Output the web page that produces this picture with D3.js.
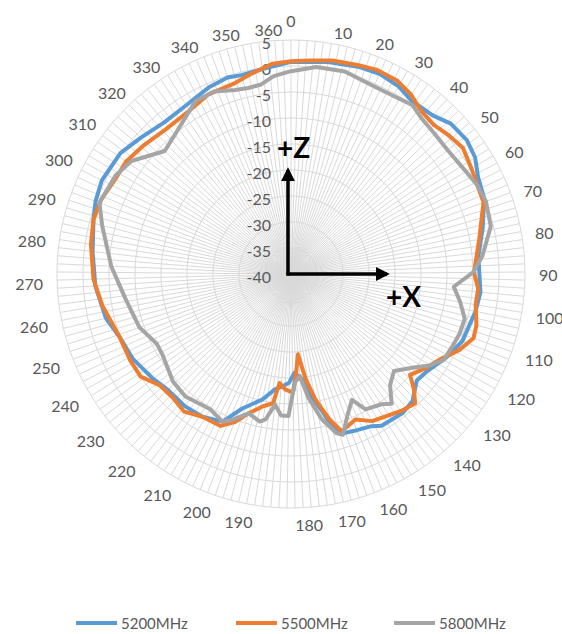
<!DOCTYPE html>
<html>
<head>
<meta charset="utf-8">
<script src="https://cdn.jsdelivr.net/npm/d3@7"></script>
<style>
  body { margin: 0; background: #fff; }
  text { font-family: Lato, "Open Sans", sans-serif; }
</style>
</head>
<body>
<div id="chart"></div>
<script>
"use strict";
(function() {

const WIDTH = 562
const HEIGHT = 634
const CX = 291
const CY = 274
const RADIUS = 234

// categories: measurement angles 0..360 step 2 (one spoke each)
const categories = d3.range(0, 361, 2)
const categoryLabels = d3.range(0, 361, 10)
const dbTicks = [-40, -35, -30, -25, -20, -15, -10, -5, 0, 5]

// series: angle (deg) / gain (dB)
const blueAngles = [0, 10, 18, 24, 30, 35, 42, 47, 53, 58, 63, 69, 77, 85, 96, 102, 112, 119, 126, 131, 137, 142, 150, 153, 158, 163, 166, 168, 172, 175, 179, 182, 186, 189, 194, 201, 206, 213, 220, 228, 234, 243, 251, 258, 268, 278, 287, 292, 298, 307, 314, 322, 330, 338, 344, 348, 354]
const blueDb = [0.8, 1.4, 1.9, 2.1, 1.6, 0.6, 0.9, 2.2, 2.5, 1.9, 0.5, -0.1, -2.1, -3.8, -3.4, -3.8, -4.6, -6.1, -7.8, -8.3, -6.2, -5.7, -6.0, -6.9, -7.4, -7.8, -10, -12.8, -16.5, -19.7, -21, -19.1, -18.2, -17.6, -15.2, -12.5, -8.7, -7.7, -7.4, -7.5, -6.7, -5.5, -4.9, -3.4, -2.3, -1.6, -0.6, 0.1, 0.6, 0.2, -1.0, -2.0, -1.8, -0.8, -0.3, -0.6, -0.2]

const orangeAngles = [0, 5, 11, 18, 23, 29, 34, 39, 44, 49, 54, 60, 65, 70, 80, 90, 95, 100, 106, 110, 115, 120, 126, 131, 134, 137, 142, 152, 157, 163, 166, 168, 170, 173, 176, 178, 180, 184, 187, 189, 193, 198, 202, 206, 213, 219, 225, 231, 237, 243, 251, 262, 270, 280, 287, 293, 300, 306, 313, 321, 330, 337, 345, 351, 357]
const orangeDb = [0.9, 1.2, 1.8, 2.2, 2.6, 2.4, 1.5, 0.1, -0.3, 0.4, 1.0, 0.2, -0.3, -0.5, -3.2, -4.8, -3.9, -4.0, -3.0, -2.8, -4.5, -6.8, -8.5, -10, -7.5, -5.5, -6.2, -7.7, -9.4, -8.2, -11, -13.4, -15.5, -19.6, -24.5, -21, -17.2, -17.8, -18.9, -14.9, -14.0, -12.0, -9.5, -7.8, -7.7, -6.5, -7.1, -6.9, -5.0, -4.9, -4.9, -3.2, -2.0, -1.1, -0.6, -0.8, -1.6, -1.6, -2.4, -3.2, -3.0, -2.0, -1.8, -0.7, 0.6]

const grayAngles = [0, 7, 15, 23, 30, 36, 40, 46, 52, 60, 65, 70, 77, 85, 90, 95, 100, 105, 110, 115, 120, 124, 128, 134, 139, 143, 146, 152, 155, 159, 163, 165, 169, 173, 176, 179, 182, 185, 188, 191, 193, 198, 203, 206, 212, 222, 229, 239, 244, 252, 263, 274, 286, 292, 301, 307, 316, 323, 333, 339, 345, 349, 353, 357]
const grayDb = [-1.0, 0.1, 0.3, -0.5, -0.5, 0, -0.9, -1.4, -1.6, -1.0, -0.3, 0, -0.5, -3.0, -5.0, -8.6, -7.0, -5.5, -5.6, -6.0, -6.3, -8, -10.3, -12.8, -11.4, -8.4, -9.5, -10.3, -13.1, -10.8, -7.5, -8.2, -11.5, -16, -20.3, -19.1, -12.7, -12.7, -14.7, -11.6, -11.0, -12.0, -9.8, -8.7, -9.7, -8.9, -9.3, -10.8, -10.9, -9.1, -7.8, -5.4, -2.5, -0.7, -1.3, -2.4, -6.1, -4.9, -2.0, -1.9, -3.0, -3.3, -3.1, -1.8]

const seriesNames = ["5200MHz", "5500MHz", "5800MHz"]
const seriesColors = ["#5b9bd5", "#ed7d31", "#a5a5a5"]

const GRID = "#d9d9d9"
const LABEL = "#595959"

var svg = d3.select("#chart").append("svg")
    .attr("width", WIDTH)
    .attr("height", HEIGHT)

var main = svg.append("g")
    .attr("transform", `translate(${CX}, ${CY})`)

// 181 categories -> the 360 category sits one step short of the top
let angle = d3.scaleLinear().domain([0, 362]).range([0, 2 * Math.PI])
let radius = d3.scaleLinear().domain([-40, 5]).range([0, RADIUS])

function polar(a, r) {
    return [r * Math.sin(a), -r * Math.cos(a)]
}

function drawGrid() {
    main.selectAll("line.spoke")
        .data(categories)
        .join("line")
        .attr("class", "spoke")
        .attr("x1", 0).attr("y1", 0)
        .attr("x2", d => polar(angle(d), RADIUS)[0])
        .attr("y2", d => polar(angle(d), RADIUS)[1])
        .attr("stroke", GRID)
        .attr("stroke-width", 1)

    let ring = d3.lineRadial()
        .angle(d => angle(d))
        .curve(d3.curveLinearClosed)

    main.selectAll("path.ring")
        .data(dbTicks.slice(1))
        .join("path")
        .attr("class", "ring")
        .attr("d", t => ring.radius(radius(t))(categories.slice(0, -1)))
        .attr("fill", "none")
        .attr("stroke", GRID)
        .attr("stroke-width", 1)
}

function drawLabels() {
    // category labels: left/right edge pinned to the point, like Excel does
    categoryLabels.forEach(c => {
        let a = angle(c)
        let s = Math.sin(a)
        let p = polar(a, RADIUS + 14)
        let anchor = s > 0.001 ? "start" : (s < -0.001 ? "end" : "middle")
        main.append("text")
            .attr("x", p[0])
            .attr("y", p[1] + (anchor === "middle" ? -6 : 3))
            .attr("text-anchor", anchor)
            .attr("dominant-baseline", "central")
            .attr("font-size", "16px")
            .attr("fill", LABEL)
            .text(c)
    })

    // value axis labels up the 0 spoke
    main.selectAll("text.db")
        .data(dbTicks)
        .join("text")
        .attr("class", "db")
        .attr("x", -20)
        .attr("y", d => -radius(d) + 2)
        .attr("text-anchor", "end")
        .attr("dominant-baseline", "central")
        .attr("font-size", "16px")
        .attr("fill", LABEL)
        .text(d => d)
}

function drawSeries(angles, values, color) {
    let pts = angles.map((a, i) => [a, values[i]])
    let line = d3.lineRadial()
        .angle(d => angle(d[0]))
        .radius(d => radius(d[1]))
        .curve(d3.curveLinearClosed)
    main.append("path")
        .datum(pts)
        .attr("d", line)
        .attr("fill", "none")
        .attr("stroke", color)
        .attr("stroke-width", 4)
        .attr("stroke-linejoin", "round")
}

function drawAxesArrows() {
    svg.append("defs").append("marker")
        .attr("id", "head")
        .attr("viewBox", "0 0 10 10")
        .attr("refX", 8).attr("refY", 5)
        .attr("markerWidth", 4).attr("markerHeight", 4)
        .attr("orient", "auto")
        .append("path")
        .attr("d", "M0,0 L10,5 L0,10 z")
        .attr("fill", "#000")

    let ox = 288, oy = 274
    svg.append("line")
        .attr("x1", ox).attr("y1", oy + 1.5)
        .attr("x2", ox).attr("y2", 170)
        .attr("stroke", "#000").attr("stroke-width", 3.5)
        .attr("marker-end", "url(#head)")
    svg.append("line")
        .attr("x1", ox - 1.5).attr("y1", oy)
        .attr("x2", 387).attr("y2", oy)
        .attr("stroke", "#000").attr("stroke-width", 3.5)
        .attr("marker-end", "url(#head)")

    svg.append("text").text("+Z")
        .attr("x", 277).attr("y", 158)
        .attr("font-size", "28px").attr("font-weight", "bold")
        .attr("fill", "#000")
    svg.append("text").text("+X")
        .attr("x", 386).attr("y", 307)
        .attr("font-size", "28px").attr("font-weight", "bold")
        .attr("fill", "#000")
}

function drawLegend() {
    let xs = [76, 236, 394]
    let ly = 623
    seriesNames.forEach((name, i) => {
        svg.append("line")
            .attr("x1", xs[i]).attr("x2", xs[i] + 41)
            .attr("y1", ly).attr("y2", ly)
            .attr("stroke", seriesColors[i])
            .attr("stroke-width", 4)
        svg.append("text")
            .attr("x", xs[i] + 45)
            .attr("y", ly)
            .attr("dominant-baseline", "central")
            .attr("font-size", "15px")
            .attr("fill", LABEL)
            .text(name)
    })
}

drawGrid()
drawLabels()
drawSeries(blueAngles, blueDb, seriesColors[0])
drawSeries(orangeAngles, orangeDb, seriesColors[1])
drawSeries(grayAngles, grayDb, seriesColors[2])
drawAxesArrows()
drawLegend()

})();
</script>
</body>
</html>
